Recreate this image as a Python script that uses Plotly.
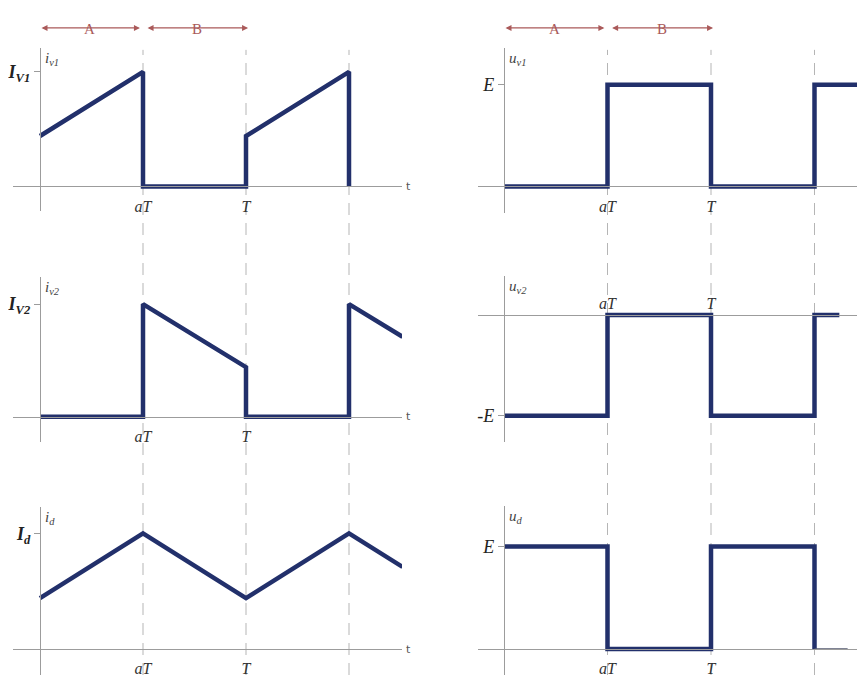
import plotly.graph_objects as go

# the page body keeps its default 8px margin, so the figure is sized to fit
# the 865x677 window and reference pixel positions are shifted by OFF
OFF = 8
W, H = 865 - OFF, 677 - OFF

# time in units of the switching period T (aT = 0.5 T)
tick_t = [0.5, 1.0]
tick_t_text = ["<i>aT</i>", "<i>T</i>"]
edge_t = [0.5, 1.0, 1.5]

iv1_t = [0, 0.5, 0.5, 1.0, 1.0, 1.5, 1.5]
iv1_y = [0.44, 1.0, 0.0, 0.0, 0.44, 1.0, 0.0]
iv2_t = [0, 0.5, 0.5, 1.0, 1.0, 1.5, 1.5, 1.76]
iv2_y = [0, 0, 1.0, 0.44, 0, 0, 1.0, 0.71]
id_t = [0, 0.5, 1.0, 1.5, 1.76]
id_y = [0.44, 1.0, 0.44, 1.0, 0.71]
uv1_t = [0, 0.5, 0.5, 1.0, 1.0, 1.5, 1.5, 1.8]
uv1_y = [0, 0, 1, 1, 0, 0, 1, 1]
uv2_t = [0, 0.5, 0.5, 1.0, 1.0, 1.5, 1.5, 1.62]
uv2_y = [-1, -1, 0, 0, -1, -1, 0, 0]
ud_t = [0, 0.5, 0.5, 1.0, 1.0, 1.5, 1.5]
ud_y = [1, 1, 0, 0, 1, 1, 0]
ud_tail_t = [1.5, 1.66]
ud_tail_y = [0, 0]

WAVE = "#22306b"
AXIS = "#9c9c9c"
GUIDE = "#b5b5b5"
RED = "#aa5a5a"
SERIF = "Liberation Serif"


def px_x(x):
    return (x - OFF) / W


def px_y(y):
    return 1 - (y - OFF) / H


# column geometry in pixels: origin, period width, left/right end of the axis
columns = {
    "L": {"origin": 40, "period": 206, "left": 13, "right": 402},
    "R": {"origin": 504, "period": 207, "left": 478, "right": 865},
}

# panel geometry: zero line, pixels per unit, top/bottom of the vertical axis
panels = [
    {"col": "L", "t": iv1_t, "y": iv1_y, "zero": 187, "unit": 115, "top": 48, "bottom": 212,
     "name": "<i>i</i><sub><i>v1</i></sub>", "tick": 1.0,
     "ticktext": "<b><i>I</i></b><sub><b><i>V1</i></b></sub>", "side": "bottom"},
    {"col": "L", "t": iv2_t, "y": iv2_y, "zero": 418, "unit": 113, "top": 278, "bottom": 443,
     "name": "<i>i</i><sub><i>v2</i></sub>", "tick": 1.0,
     "ticktext": "<b><i>I</i></b><sub><b><i>V2</i></b></sub>", "side": "bottom"},
    {"col": "L", "t": id_t, "y": id_y, "zero": 651, "unit": 116, "top": 508, "bottom": 677,
     "name": "<i>i</i><sub><i>d</i></sub>", "tick": 1.0,
     "ticktext": "<b><i>I</i></b><sub><b><i>d</i></b></sub>", "side": "bottom"},
    {"col": "R", "t": uv1_t, "y": uv1_y, "zero": 187, "unit": 102, "top": 48, "bottom": 214,
     "name": "<i>u</i><sub><i>v1</i></sub>", "tick": 1.0, "ticktext": "<i>E</i>", "side": "bottom"},
    {"col": "R", "t": uv2_t, "y": uv2_y, "zero": 316, "unit": 101, "top": 277, "bottom": 443,
     "name": "<i>u</i><sub><i>v2</i></sub>", "tick": -1.0, "ticktext": "<i>-E</i>", "side": "top"},
    {"col": "R", "t": ud_t, "y": ud_y, "zero": 651, "unit": 103, "top": 507, "bottom": 677,
     "name": "<i>u</i><sub><i>d</i></sub>", "tick": 1.0, "ticktext": "<i>E</i>", "side": "bottom"},
]

fig = go.Figure()
layout = {}
annotations = []
shapes = []

for i, p in enumerate(panels, start=1):
    c = columns[p["col"]]
    xr = [(c["left"] - c["origin"]) / c["period"], (c["right"] - c["origin"]) / c["period"]]
    yr = [-(p["bottom"] - p["zero"]) / p["unit"], (p["zero"] - p["top"]) / p["unit"]]
    xname = "xaxis" if i == 1 else f"xaxis{i}"
    yname = "yaxis" if i == 1 else f"yaxis{i}"
    xid = "x" if i == 1 else f"x{i}"
    yid = "y" if i == 1 else f"y{i}"

    fig.add_trace(go.Scatter(
        x=p["t"], y=p["y"], mode="lines", xaxis=xid, yaxis=yid,
        line={"color": WAVE, "width": 4.5}, hoverinfo="skip",
    ))
    if i == 6:
        fig.add_trace(go.Scatter(
            x=ud_tail_t, y=ud_tail_y, mode="lines", xaxis=xid, yaxis=yid,
            line={"color": "#555a70", "width": 1.5}, hoverinfo="skip",
        ))

    layout[xname] = {
        "domain": [px_x(c["left"]), min(1.0, px_x(c["right"]))],
        "range": xr,
        "anchor": "free",
        "position": px_y(p["zero"]),
        "side": p["side"],
        "showline": True, "linecolor": AXIS, "linewidth": 1.2,
        "showgrid": False, "zeroline": False,
        "tickvals": tick_t, "ticktext": tick_t_text, "ticks": "",
        "ticklabelstandoff": 5 if p["side"] == "bottom" else 0,
        "tickfont": {"family": SERIF, "size": 16, "color": "#333333"},
        "fixedrange": True,
    }
    layout[yname] = {
        "domain": [max(0.0, px_y(p["bottom"])), px_y(p["top"])],
        "range": yr,
        "anchor": "free",
        "position": px_x(c["origin"]),
        "showline": True, "linecolor": AXIS, "linewidth": 1.2,
        "showgrid": False, "zeroline": False,
        "tickvals": [p["tick"]], "ticktext": [p["ticktext"]],
        "ticks": "outside", "ticklen": 6, "tickcolor": AXIS,
        "tickfont": {"family": SERIF, "size": 18, "color": "#222222"},
        "fixedrange": True,
    }

    annotations.append({
        "xref": xid, "x": 0, "xanchor": "left", "xshift": 3,
        "yref": "paper", "y": px_y(p["top"]), "yanchor": "top",
        "text": p["name"], "showarrow": False,
        "font": {"family": SERIF, "size": 15, "color": "#444444"},
    })
    if p["col"] == "L":
        annotations.append({
            "xref": xid, "x": xr[1], "xanchor": "left", "xshift": 2,
            "yref": yid, "y": 0, "yanchor": "middle",
            "text": "t", "showarrow": False,
            "font": {"family": "DejaVu Sans", "size": 11, "color": "#555555"},
        })

# dashed switching-instant guides and the A / B interval arrows
for xid in ("x", "x4"):
    for t in edge_t:
        shapes.append({
            "type": "line", "xref": xid, "yref": "paper",
            "x0": t, "x1": t, "y0": 0, "y1": px_y(50),
            "line": {"color": GUIDE, "width": 1, "dash": "12px,8px"},
            "layer": "below",
        })
    for start, end, label in ((0.0, 0.485, "A"), (0.515, 1.01, "B")):
        annotations.append({
            "xref": xid, "x": end, "axref": xid, "ax": start,
            "yref": "paper", "y": px_y(28), "ayref": "pixel", "ay": 0,
            "text": "", "showarrow": True, "arrowside": "end+start",
            "arrowhead": 2, "arrowsize": 1, "arrowwidth": 1.2,
            "arrowcolor": RED, "standoff": 0, "startstandoff": 0,
        })
        annotations.append({
            "xref": xid, "x": (start + end) / 2, "yref": "paper", "y": px_y(19),
            "text": label, "showarrow": False,
            "font": {"family": SERIF, "size": 15, "color": RED},
        })

fig.update_layout(
    width=W, height=H,
    margin={"l": 0, "r": 0, "t": 0, "b": 0},
    paper_bgcolor="white", plot_bgcolor="white",
    showlegend=False,
    annotations=annotations,
    shapes=shapes,
    **layout,
)

fig.write_html("out.html")
